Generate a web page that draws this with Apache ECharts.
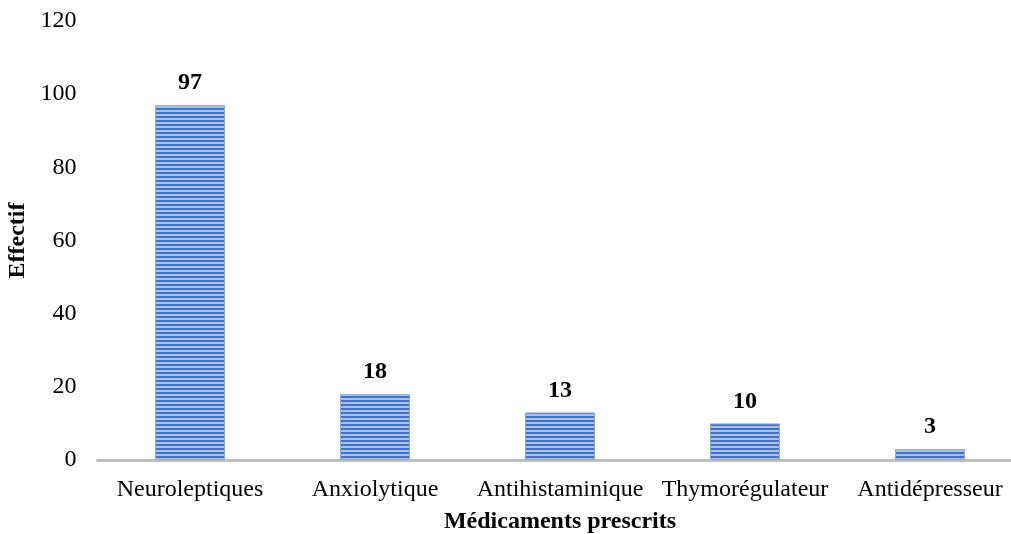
<!DOCTYPE html>
<html>
<head>
<meta charset="utf-8">
<script src="https://cdn.jsdelivr.net/npm/echarts@6/dist/echarts.min.js"></script>
<style>
  html, body { margin: 0; padding: 0; background: #fff; }
  #chart { width: 1011px; height: 534px; }
</style>
</head>
<body>
<div id="chart"></div>
<script>
const categories = ['Neuroleptiques', 'Anxiolytique', 'Antihistaminique', 'Thymorégulateur', 'Antidépresseur'];
const effectifs = [97, 18, 13, 10, 3];
const yTicks = { min: 0, max: 120, interval: 20 };

// Horizontal stripe fill for the bars
function stripePattern() {
  const c = document.createElement('canvas');
  c.width = 4; c.height = 4;
  const ctx = c.getContext('2d');
  ctx.fillStyle = '#4472C4';
  ctx.fillRect(0, 0, 4, 2);
  ctx.fillStyle = '#A9BFE6';
  ctx.fillRect(0, 2, 4, 2);
  return c;
}

const font = '"Liberation Serif", "Times New Roman", serif';
const chart = echarts.init(document.getElementById('chart'));
chart.setOption({
  animation: false,
  grid: { left: 97.5, right: -11.5, top: 21, bottom: 74, containLabel: false, outerBoundsMode: 'none' },
  xAxis: {
    type: 'category',
    data: categories,
    axisTick: { show: false },
    axisLine: { lineStyle: { color: '#BFBFBF', width: 3 } },
    axisLabel: { color: '#000', fontFamily: font, fontSize: 24, margin: 18, interval: 0, hideOverlap: false },
    name: 'Médicaments prescrits',
    nameLocation: 'middle',
    nameGap: 50,
    nameTextStyle: { color: '#000', fontFamily: font, fontSize: 24, fontWeight: 'bold' }
  },
  yAxis: {
    type: 'value',
    min: yTicks.min, max: yTicks.max, interval: yTicks.interval,
    splitLine: { show: false },
    axisLine: { show: false },
    axisTick: { show: false },
    axisLabel: { color: '#000', fontFamily: font, fontSize: 24, margin: 21 },
    name: 'Effectif',
    nameLocation: 'middle',
    nameGap: 67,
    nameTextStyle: { color: '#000', fontFamily: font, fontSize: 24, fontWeight: 'bold' }
  },
  series: [{
    type: 'bar',
    data: effectifs,
    barWidth: 70,
    itemStyle: {
      color: { image: stripePattern(), repeat: 'repeat' },
      borderColor: '#8FAADC',
      borderWidth: 1
    },
    label: {
      show: true,
      position: 'top',
      distance: 10,
      color: '#000',
      fontFamily: font,
      fontSize: 24,
      fontWeight: 'bold'
    }
  }]
});
</script>
</body>
</html>
